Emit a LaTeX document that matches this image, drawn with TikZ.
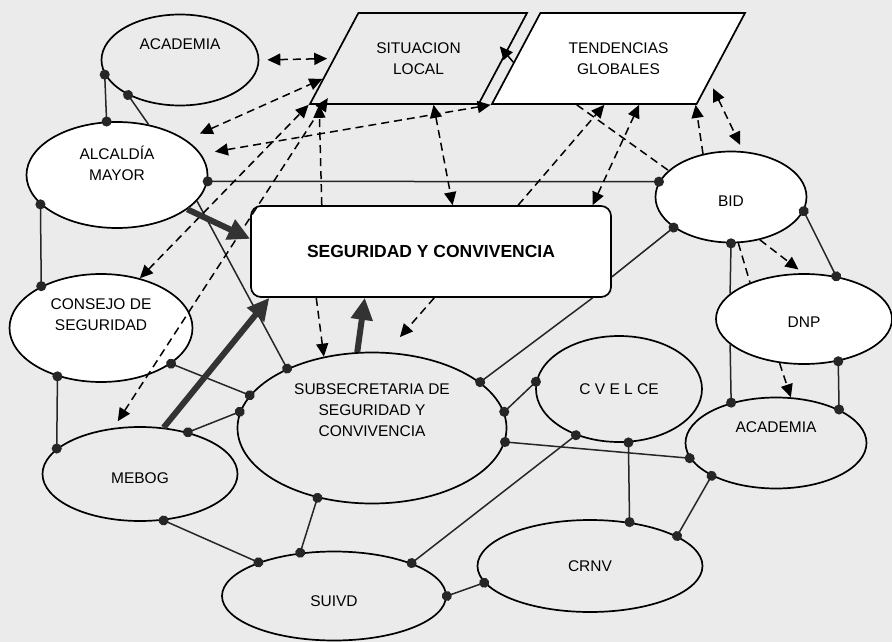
\documentclass[tikz,border=0pt]{standalone}
\usepackage{fontspec}
\setmainfont{Liberation Sans}
\usetikzlibrary{shapes.geometric, positioning, arrows.meta}

\newcommand\lbl{\fontsize{15.5}{21}\selectfont}

\tikzset{
  org/.style 2 args={ellipse, draw, line width=1.7pt, inner sep=0pt, minimum width=#1, minimum height=#2},
  orgw/.style 2 args={org={#1}{#2}, fill=white},
  txt/.style={font=\lbl, align=center, yshift=#1},
  txt/.default=0pt,
  lean/.style={trapezium, trapezium left angle=62, trapezium right angle=118, trapezium stretches body,
    draw, line width=1.7pt, inner xsep=0pt, inner ysep=29.5pt, font=\lbl, align=center},
  panel/.style={rectangle, rounded corners=10pt, draw, line width=1.7pt, fill=white,
    minimum width=360pt, minimum height=91pt, font=\bfseries\fontsize{17.5}{20}\selectfont},
  tie/.style={line width=1.5pt, black!85, {Circle[length=10pt]}-{Circle[length=10pt]}, shorten <=-5pt, shorten >=-5pt},
  halftie/.style={line width=1.5pt, black!85, -{Circle[length=10pt]}, shorten >=-5pt},
  cue0/.style={line width=1.5pt, dash pattern=on 8pt off 5pt},
  cue1/.style={cue0, -{Triangle[length=13pt, width=12pt]}},
  cue/.style={cue0, {Triangle[length=13pt, width=12pt]}-{Triangle[length=13pt, width=12pt]}},
  push/.style={line width=6pt, black!80, -{Triangle[length=22pt, width=21pt]}}
}

\begin{document}
\begin{tikzpicture}[x=1pt, y=-1pt, on grid]
	\useasboundingbox (0,0) rectangle (892,642);
	\fill[black!8] (0,0) rectangle (892,642);

	\node[panel] (segur) at (431,251.5) {SEGURIDAD Y CONVIVENCIA};
	\node[orgw={181pt}{106pt}, above left=76.5pt and 314pt of segur, label={[txt=12pt]center:ALCALDÍA\\MAYOR}] (alcaldia) {};
	\node[org={157pt}{91pt}, above right=115pt and 63pt of alcaldia, label={[txt=16pt]center:ACADEMIA}] (acadA) {};
	\node[orgw={183pt}{108pt}, below left=153pt and 16pt of alcaldia, label={[txt=13pt]center:CONSEJO DE\\SEGURIDAD}] (consejo) {};
	\node[org={195pt}{94pt}, below right=146pt and 39pt of consejo, label={[txt=-4pt]center:MEBOG}] (mebog) {};
	\node[org={269pt}{151pt}, below left=176.5pt and 59pt of segur, label={[txt=18pt]center:SUBSECRETARIA DE\\SEGURIDAD Y\\CONVIVENCIA}] (subse) {};
	\node[org={224pt}{89pt}, below left=168pt and 38pt of subse, label={[txt=-5pt]center:SUIVD}] (suivd) {};
	\node[org={225pt}{92pt}, above right=30pt and 256pt of suivd, label={[txt]center:CRNV}] (crnv) {};
	\node[org={166pt}{106pt}, above right=177pt and 29pt of crnv, label={[txt]center:C V E L CE}] (cvelce) {};
	\node[orgw={151pt}{91pt}, above right=54.5pt and 300pt of segur, label={[txt=-4pt]center:BID}] (bid) {};
	\node[orgw={176pt}{90pt}, below right=122pt and 73pt of bid, label={[txt=-3pt]center:DNP}] (dnp) {};
	\node[org={181pt}{91pt}, below left=124pt and 28pt of dnp, label={[txt=16pt]center:ACADEMIA}] (acadB) {};
	\node[lean, minimum width=217pt, above left=193pt and 12.5pt of segur] (situ) {SITUACION\\LOCAL};
	\node[lean, fill=white, minimum width=253pt, right=200pt of situ] (tend) {TENDENCIAS\\GLOBALES};

	\draw[tie] (acadA.191.6) -- (alcaldia.101.8);
	\draw[halftie] (alcaldia.58) -- (acadA.214);
	\draw[tie] (alcaldia.201.5) -- (consejo.145);
	\draw[tie] (alcaldia.-4.5) -- (bid.168);
	\draw[halftie] (alcaldia.-18.6) -- (subse.145.6);
	\draw[tie] (consejo.228) -- (mebog.163);
	\draw[tie] (consejo.-27) -- (subse.165.4);
	\draw[tie] (mebog.41.6) -- (subse.173);
	\draw[tie] (mebog.-63.4) -- (suivd.156.3);
	\draw[tie] (subse.232) -- (suivd.128.7);
	\draw[tie] (suivd.23.5) -- (cvelce.227.3);
	\draw[tie] (suivd.0) -- (crnv.189.3);
	\draw[halftie] (segur.-16.4) -- (subse.23.5);
	\draw[halftie] (segur.-8.1) -- (bid.208.5);
	\draw[tie] (subse.7) -- (cvelce.175.8);
	\draw[tie] (subse.-6.3) -- (acadB.190.2);
	\draw[tie] (cvelce.-80.3) -- (crnv.48.7);
	\draw[tie] (crnv.19.9) -- (acadB.207.7);
	\draw[tie] (bid.-11.9) -- (dnp.53.7);
	\draw[halftie] (dnp.161) -- (bid.-90);
	\draw[halftie] (dnp.199) -- (acadB.138.7);
	\draw[tie] (dnp.-51.6) -- (acadB.28.8);

	\draw[cue, shorten <=8pt, shorten >=6pt] (acadA.0) -- (situ.180);
	\draw[cue, shorten <=15pt] (alcaldia.27.4) -- (situ.192.6);
	\draw[cue, shorten <=14pt] (alcaldia.14.6) -- (tend.bottom left corner);
	\draw[cue] (situ.-72.3) -- (segur.65.2);
	\draw[cue] (consejo.52) -- (situ.bottom left corner);
	\draw[cue, shorten <=8pt, shorten >=-8pt] (mebog.120.7) -- (situ.206);
	\draw[cue1] (segur.157.2) -- (situ.205.5);
	\draw[cue1] (segur.202.8) -- (subse.124.9);
	\draw[cue1, shorten >=20pt] (segur.-86.2) -- (subse.79.6);
	\draw[cue1] (segur.28.7) -- (tend.253.5);
	\draw[cue] (segur.16) -- (tend.-66.8);
	\draw[cue1] (bid.123.4) -- (tend.-31.8);
	\draw[cue, shorten <=8pt, shorten >=7pt] (tend.-14.6) -- (bid.75);
	\draw[cue0] (tend.228.3) -- (bid.157.1);
	\draw[cue1, shorten >=6pt] (bid.-56) -- (dnp.91);
	\draw[cue0] (bid.-81.7) -- (dnp.146.2);
	\draw[cue1] (dnp.241.1) -- (acadB.72.7);
	\draw[cue1, shorten >=-10pt] (tend.182) -- (situ.3);

	\draw[push] (alcaldia.-26.3) -- (segur.176.3);
	\draw[push] (mebog.63.9) -- (segur.196.3);
	\draw[push] (subse.101.2) -- (segur.215.8);

	\end{tikzpicture}
\end{document}
